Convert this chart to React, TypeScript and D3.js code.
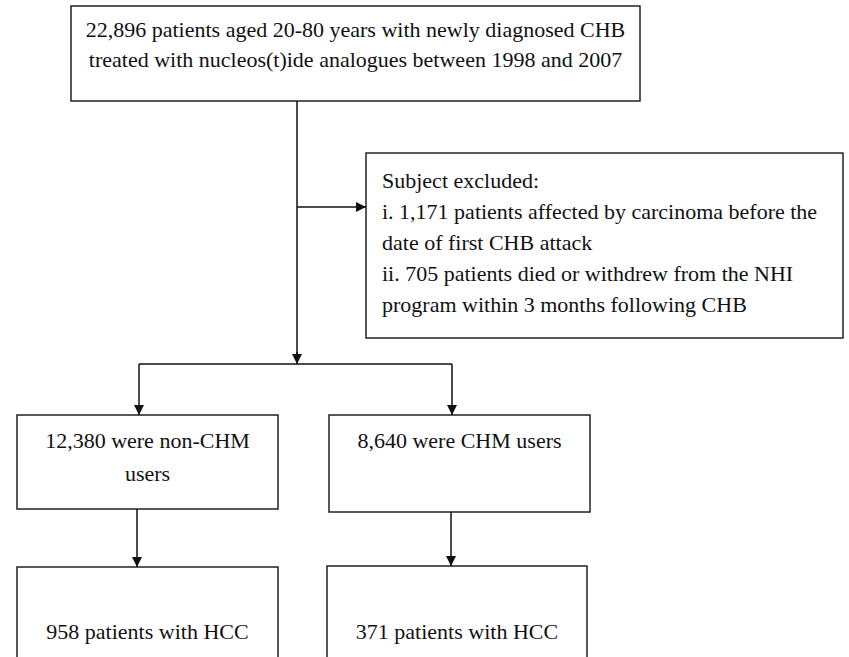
import * as d3 from 'd3'
import { useEffect, useRef } from 'react'

const topLines = [
  '22,896 patients aged 20-80 years with newly diagnosed CHB',
  'treated with nucleos(t)ide analogues between 1998 and 2007',
]
const excludedLines = [
  'Subject excluded:',
  'i. 1,171 patients affected by carcinoma before the',
  'date of first CHB attack',
  'ii. 705 patients died or withdrew from the NHI',
  'program within 3 months following CHB',
]
const groupLabels = [['12,380 were non-CHM', 'users'], ['8,640 were CHM users']]
const outcomeLabels = [['958 patients with HCC'], ['371 patients with HCC']]

interface Box { x: number, y: number, w: number, h: number }

export default function App() {
  const svgRef = useRef<SVGSVGElement | null>(null)

  useEffect(() => {
    if (!svgRef.current) return
    const svg = d3.select(svgRef.current)
    svg.selectAll('*').remove()

    const font = "'Liberation Serif', 'DejaVu Serif', serif"
    const fontSize = 22

    const topBox: Box = { x: 71, y: 6, w: 569, h: 95 }
    const exclBox: Box = { x: 366, y: 153, w: 477, h: 185 }
    const groupBoxes: Box[] = [
      { x: 17, y: 415, w: 261, h: 94 },
      { x: 329, y: 415, w: 261, h: 97 },
    ]
    const outcomeBoxes: Box[] = [
      { x: 17, y: 567, w: 261, h: 120 },
      { x: 327, y: 566, w: 260, h: 120 },
    ]

    svg.append('defs')
      .append('marker')
      .attr('id', 'arrow')
      .attr('viewBox', '0 0 10 10')
      .attr('refX', 10)
      .attr('refY', 5)
      .attr('markerWidth', 10)
      .attr('markerHeight', 10)
      .attr('markerUnits', 'userSpaceOnUse')
      .attr('orient', 'auto')
      .append('path')
      .attr('d', 'M0,0 L10,5 L0,10 Z')
      .attr('fill', '#111')

    const allBoxes = [topBox, exclBox, ...groupBoxes, ...outcomeBoxes]
    svg.selectAll('rect.box')
      .data(allBoxes)
      .join('rect')
      .attr('class', 'box')
      .attr('x', (d) => d.x)
      .attr('y', (d) => d.y)
      .attr('width', (d) => d.w)
      .attr('height', (d) => d.h)
      .attr('fill', 'white')
      .attr('stroke', '#222')
      .attr('stroke-width', 1.5)

    const line = d3.line<[number, number]>()
    const branchY = 364
    const mainX = 297
    const groupX = [139, 452]
    const outX = [137, 451]

    const plain: [number, number][][] = [
      [[mainX, topBox.y + topBox.h], [mainX, branchY - 10]],
      [[groupX[0], branchY], [groupX[1], branchY]],
    ]
    const arrows: [number, number][][] = [
      [[mainX, branchY - 12], [mainX, branchY]],
      [[mainX, 207], [exclBox.x, 207]],
      [[groupX[0], branchY], [groupX[0], groupBoxes[0].y]],
      [[groupX[1], branchY], [groupX[1], groupBoxes[1].y]],
      [[outX[0], groupBoxes[0].y + groupBoxes[0].h], [outX[0], outcomeBoxes[0].y]],
      [[outX[1], groupBoxes[1].y + groupBoxes[1].h], [outX[1], outcomeBoxes[1].y]],
    ]

    svg.selectAll('path.plain')
      .data(plain)
      .join('path')
      .attr('class', 'plain')
      .attr('d', (d) => line(d))
      .attr('stroke', '#111')
      .attr('stroke-width', 1.5)
      .attr('fill', 'none')

    svg.selectAll('path.arrow')
      .data(arrows)
      .join('path')
      .attr('class', 'arrow')
      .attr('d', (d) => line(d))
      .attr('stroke', '#111')
      .attr('stroke-width', 1.5)
      .attr('fill', 'none')
      .attr('marker-end', 'url(#arrow)')

    function centered(box: Box, lines: string[], firstBaseline: number, step: number) {
      svg.append('g')
        .selectAll('text')
        .data(lines)
        .join('text')
        .attr('x', box.x + box.w / 2)
        .attr('y', (_, i) => firstBaseline + i * step)
        .attr('text-anchor', 'middle')
        .style('font-family', font)
        .style('font-size', `${fontSize}px`)
        .attr('fill', '#111')
        .text((d) => d)
    }

    centered(topBox, topLines, 37, 30)

    svg.append('g')
      .selectAll('text')
      .data(excludedLines)
      .join('text')
      .attr('x', 382)
      .attr('y', (_, i) => 188 + i * 31)
      .style('font-family', font)
      .style('font-size', `${fontSize}px`)
      .attr('fill', '#111')
      .text((d) => d)

    groupLabels.forEach((lines, i) => centered(groupBoxes[i], lines, 448, 33))
    outcomeLabels.forEach((lines, i) => centered(outcomeBoxes[i], lines, 639, 33))
  }, [])

  return (
    <svg
      ref={svgRef}
      width={849}
      height={657}
      style={{ position: 'absolute', left: 0, top: 0, background: 'white' }}
    />
  )
}
